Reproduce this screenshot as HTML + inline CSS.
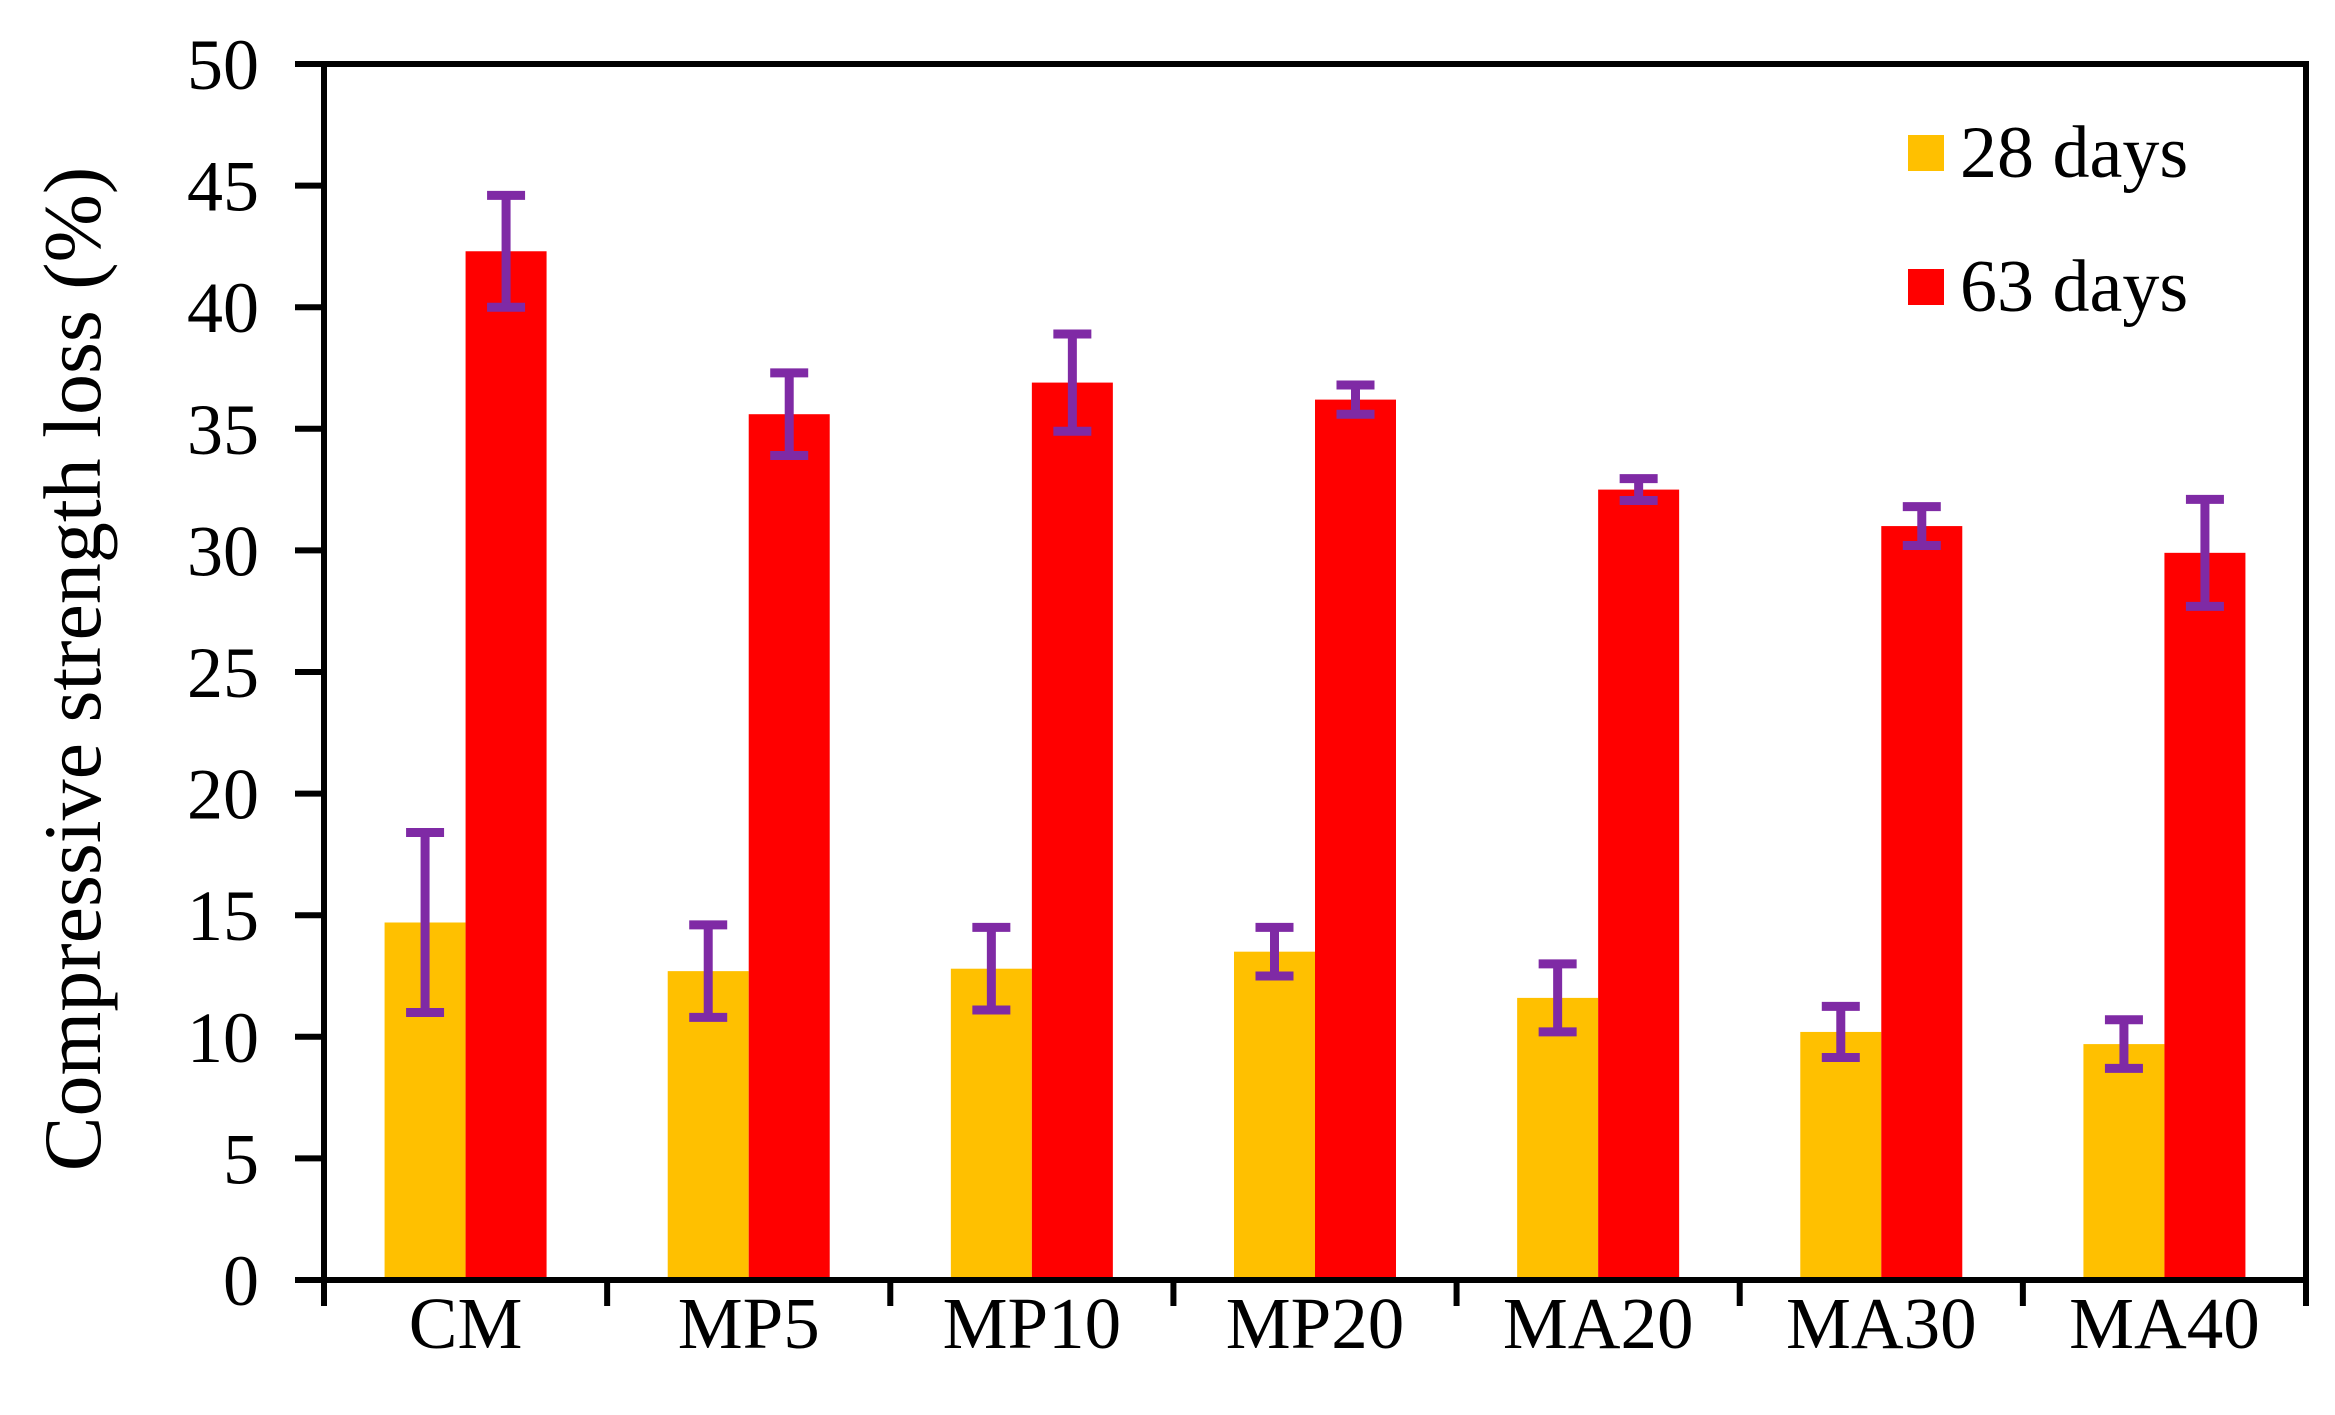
<!DOCTYPE html>
<html><head><meta charset="utf-8"><style>
html,body{margin:0;padding:0;background:#fff;}
svg{display:block;font-family:"Liberation Serif",serif;}
</style></head><body>
<svg id="chart" width="2335" height="1415" viewBox="0 0 2335 1415" xmlns="http://www.w3.org/2000/svg"></svg>
<script>
const categories = ["CM","MP5","MP10","MP20","MA20","MA30","MA40"];
const days28 = [14.7,12.7,12.8,13.5,11.6,10.2,9.7];
const err28 = [3.7,1.9,1.7,1.0,1.4,1.05,1.0];
const days63 = [42.3,35.6,36.9,36.2,32.5,31.0,29.9];
const err63 = [2.3,1.7,2.0,0.6,0.45,0.8,2.2];
const yTicks = [0,5,10,15,20,25,30,35,40,45,50];

const svg = document.getElementById('chart');
const NS = "http://www.w3.org/2000/svg";
const L=324, R=2306, T=64, B=1280, yMax=50;
const band=(R-L)/categories.length, bw=81;
const y=v=>B-(v/yMax)*(B-T);
const xc=i=>L+band*(i+0.5);
function mk(tag, attrs){
  const e=document.createElementNS(NS,tag);
  for(const k in attrs) e.setAttribute(k,attrs[k]);
  svg.appendChild(e); return e;
}
categories.forEach((c,i)=>{
  const b1=mk('rect',{x:xc(i)-bw,y:y(days28[i]),width:bw,height:B-y(days28[i]),fill:'#FFC000'});
  
  
  const b2=mk('rect',{x:xc(i),y:y(days63[i]),width:bw,height:B-y(days63[i]),fill:'#FF0000'});
  
  
});
function eb(cx,v,e,name){
  const g=document.createElementNS(NS,'g');
  
  
  g.setAttribute('stroke','#7F2AA5');g.setAttribute('stroke-width','9');
  const add=(a)=>{const l=document.createElementNS(NS,'line');for(const k in a)l.setAttribute(k,a[k]);g.appendChild(l);};
  add({x1:cx,x2:cx,y1:y(v+e),y2:y(v-e)});
  add({x1:cx-19,x2:cx+19,y1:y(v+e),y2:y(v+e)});
  add({x1:cx-19,x2:cx+19,y1:y(v-e),y2:y(v-e)});
  svg.appendChild(g);
}
categories.forEach((c,i)=>{
  eb(xc(i)-bw/2,days28[i],err28[i],'error-bar-28-days-'+c.toLowerCase());
  eb(xc(i)+bw/2,days63[i],err63[i],'error-bar-63-days-'+c.toLowerCase());
});
const fr=mk('rect',{x:L,y:T,width:R-L,height:B-T,fill:'none',stroke:'#000','stroke-width':6});


yTicks.forEach(t=>{
  const tk=mk('line',{x1:L-29,x2:L,y1:y(t),y2:y(t),stroke:'#000','stroke-width':6});
  
  
  const tx=mk('text',{x:259,y:y(t)+25,'text-anchor':'end','font-size':72});
  tx.textContent=t;
  
  
});
for(let i=0;i<=categories.length;i++){
  const tk=mk('line',{x1:L+band*i,x2:L+band*i,y1:B,y2:B+26,stroke:'#000','stroke-width':6});
  
  
}
categories.forEach((c,i)=>{
  const tx=mk('text',{x:xc(i),y:1348,'text-anchor':'middle','font-size':73});
  tx.textContent=c;
  
  
});
const yt=mk('text',{x:0,y:0,'text-anchor':'middle','font-size':82,transform:'translate(100,669) rotate(-90)'});
yt.textContent='Compressive strength loss (%)';


[['28 days','#FFC000',135],['63 days','#FF0000',269]].forEach(([lab,col,ly])=>{
  const s=mk('rect',{x:1908,y:ly,width:36,height:36,fill:col});
  
  
  const t=mk('text',{x:1960,y:ly+42,'font-size':74});
  t.textContent=lab;
  
  
});
</script>
</body></html>
